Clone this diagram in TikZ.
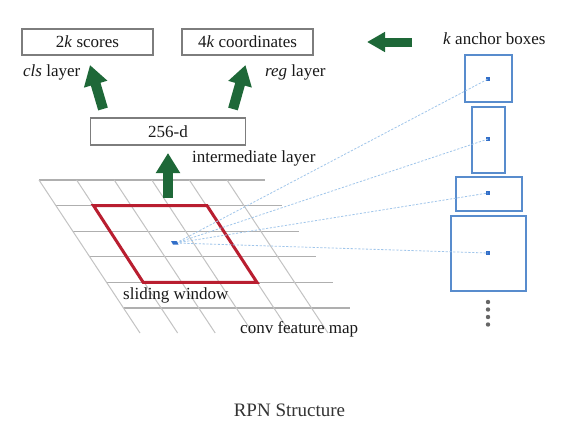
\documentclass[tikz,border=0pt]{standalone}
\usepackage{fontspec}
\setmainfont{Liberation Serif}
\usetikzlibrary{arrows.meta}
\definecolor{arrowgreen}{RGB}{30,104,56}
\definecolor{winred}{RGB}{185,30,48}
\definecolor{anchorblue}{RGB}{88,140,205}
\definecolor{dotblue}{RGB}{50,110,200}
\definecolor{dashblue}{RGB}{160,198,235}
\definecolor{gridgray}{RGB}{195,195,195}
\definecolor{hgridgray}{RGB}{175,175,175}
\definecolor{boxgray}{RGB}{125,125,125}
\definecolor{txt}{RGB}{25,25,25}
\definecolor{captxt}{RGB}{51,51,51}
\begin{document}
\begin{tikzpicture}[x=1pt,y=-1pt,
  lbl/.style={font=\fontsize{17}{20}\selectfont, text=txt, inner sep=0pt},
  outbox/.style={lbl, draw=boxgray, line width=1.3pt, minimum height=26pt},
  anchorbox/.style={draw=anchorblue, line width=1.4pt, inner sep=0pt},
  adot/.style={fill=dotblue, minimum size=3.2pt, inner sep=0pt},
  dashline/.style={dashblue, line width=0.8pt, dash pattern=on 2.2pt off 1.6pt},
  bigarrow/.style={draw=arrowgreen, line width=10pt, -{Triangle[length=20pt,width=23pt]}},
  leftarrow/.style={draw=arrowgreen, line width=9pt, -{Triangle[length=18pt,width=19pt]}},
  gridline/.style={gridgray, line width=1pt},
  hgridline/.style={hgridgray, line width=1.2pt},
  ellip/.style={fill=gray!80!black, circle, minimum size=4.4pt, inner sep=0pt}
]
\useasboundingbox (0,0) rectangle (565,426);
\fill[white] (0,0) rectangle (565,426);

% feature map grid
\foreach \i in {0,...,5} {
  \draw[hgridline] ({39+16.9*\i},{180+25.6*\i}) -- ({265+16.9*\i},{180+25.6*\i});
}
\foreach \j in {0,...,5} {
  \draw[gridline] ({39+37.6*\j},180) -- ({140+37.6*\j},333);
}

% sliding window
\draw[winred, line width=3pt, line join=miter]
  (93.5,205.6) -- (207,205.6) -- (257,282.4) -- (143.2,282.4) -- cycle;

% anchor boxes
\node[anchorbox, minimum width=47pt, minimum height=47pt] (a1) at (488.5,78.5) {};
\node[anchorbox, minimum width=33pt, minimum height=66pt] (a2) at (488.5,140) {};
\node[anchorbox, minimum width=66pt, minimum height=34pt] (a3) at (489,194) {};
\node[anchorbox, minimum width=75pt, minimum height=75pt] (a4) at (488.5,253.5) {};
\node[adot] (d1) at (488,79) {};
\node[adot] (d2) at (488,139) {};
\node[adot] (d3) at (488,193) {};
\node[adot] (d4) at (488,253) {};

% center of window
\coordinate (ctr) at (176,243);
\draw[dashline] (ctr) -- (d1.center);
\draw[dashline] (ctr) -- (d2.center);
\draw[dashline] (ctr) -- (d3.center);
\draw[dashline] (ctr) -- (d4.center);
\fill[dotblue] (171,241) -- (176.5,241) -- (178.5,244.5) -- (173,244.5) -- cycle;

% ellipsis dots
\node[ellip] (e1) at (488,302) {};
\node[ellip] (e2) at (488,309.5) {};
\node[ellip] (e3) at (488,317) {};
\node[ellip] (e4) at (488,324.5) {};

% output boxes
\node[outbox, minimum width=131pt] (scores) at (87.5,42) {2\textit{k} scores};
\node[outbox, minimum width=131pt] (coords) at (247.5,42) {4\textit{k} coordinates};
\node[outbox, minimum width=155pt, minimum height=27pt] (inter) at (168,131.5) {256-d};

% labels
\node[lbl, anchor=west] (clsl) at (23,72) {\textit{cls} layer};
\node[lbl, anchor=west] (regl) at (265,72) {\textit{reg} layer};
\node[lbl, anchor=west] (interl) at (192,158) {intermediate layer};
\node[lbl, anchor=west] (anchl) at (443,39) {\textit{k} anchor boxes};
\node[lbl, anchor=west] (slidl) at (123,295) {sliding window};
\node[lbl, anchor=west] (convl) at (240,329) {conv feature map};
\node[font=\fontsize{19}{22}\selectfont, text=captxt, inner sep=0pt] (cap) at (289.5,410) {RPN Structure};

% green arrows
\coordinate (gl0) at (103,109);
\coordinate (gl1) at (90,65);
\coordinate (gr0) at (233,109);
\coordinate (gr1) at (245.5,65);
\coordinate (gm0) at (168,198);
\coordinate (gm1) at (168,153);
\coordinate (ga0) at (412,42);
\coordinate (ga1) at (367,42);
\draw[bigarrow] (gl0) -- (gl1);
\draw[bigarrow] (gr0) -- (gr1);
\draw[bigarrow] (gm0) -- (gm1);
\draw[leftarrow] (ga0) -- (ga1);
\end{tikzpicture}
\end{document}
